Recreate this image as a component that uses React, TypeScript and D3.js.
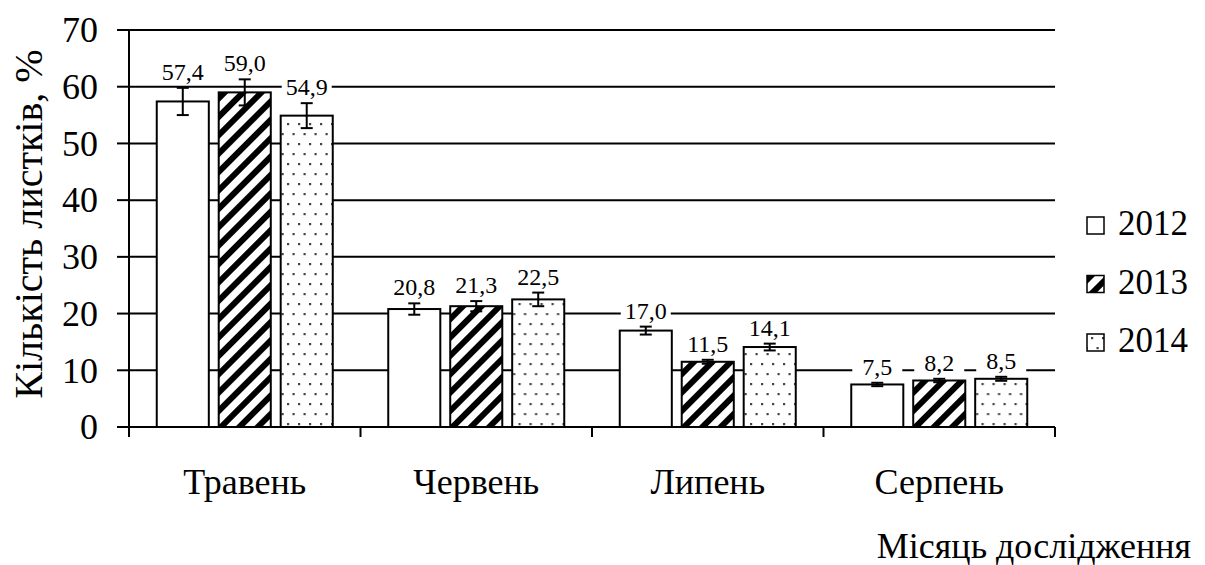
import React from "react";
import * as d3 from "d3";

const months = ["Травень", "Червень", "Липень", "Серпень"];
const years = ["2012", "2013", "2014"];
const values2012 = [57.4, 20.8, 17.0, 7.5];
const values2013 = [59.0, 21.3, 11.5, 8.2];
const values2014 = [54.9, 22.5, 14.1, 8.5];
const errors2012 = [2.4, 1.0, 0.7, 0.3];
const errors2013 = [2.3, 0.9, 0.35, 0.3];
const errors2014 = [2.2, 1.2, 0.6, 0.35];
const yTicks = [0, 10, 20, 30, 40, 50, 60, 70];
const yTitle = "Кількість листків, %";
const xTitle = "Місяць дослідження";

const seriesValues = [values2012, values2013, values2014];
const seriesErrors = [errors2012, errors2013, errors2014];
const fills = ["#fff", "url(#stripes)", "url(#dots)"];

const FONT = "Liberation Serif, Times New Roman, DejaVu Serif, serif";

export default function App() {
  const left = 129, right = 1055, top = 30, bottom = 427;
  const y = d3.scaleLinear().domain([0, 70]).range([bottom, top]);
  const x = d3.scaleBand().domain(months).range([left, right]).padding(0);
  const gw = x.bandwidth();
  const pad = (gw - 176) / 2;
  const xs = d3.scaleBand().domain(years).range([pad, gw - pad]).paddingInner(0.16).paddingOuter(0);
  const fmt = (v: number) => v.toFixed(1).replace(".", ",");

  return (
    <svg width={1205} height={565} style={{ position: "absolute", left: 0, top: 0, background: "#fff", fontFamily: FONT }}>
      <defs>
        <pattern id="stripes" width={13} height={13} patternUnits="userSpaceOnUse" patternTransform="rotate(45)">
          <rect x={0} y={0} width={13} height={13} fill="#fff" />
          <rect x={0} y={0} width={6} height={13} fill="#000" />
        </pattern>
        <pattern id="dots" width={22} height={20} patternUnits="userSpaceOnUse" x={2} y={0}>
          <rect x={0} y={0} width={22} height={20} fill="#fff" />
          <rect x={2} y={3} width={2.2} height={2.2} fill="#444" />
          <rect x={13} y={3} width={2.2} height={2.2} fill="#444" />
          <rect x={7.5} y={13} width={2.2} height={2.2} fill="#444" />
          <rect x={18.5} y={13} width={2.2} height={2.2} fill="#444" />
        </pattern>
      </defs>

      {yTicks.map((t) => (
        <line key={"g" + t} x1={left} x2={right} y1={y(t)} y2={y(t)} stroke="#000" strokeWidth={2} />
      ))}
      <line x1={left} x2={left} y1={top - 1} y2={bottom + 10} stroke="#000" strokeWidth={2} />
      {yTicks.map((t) => (
        <g key={"t" + t}>
          <line x1={left - 12} x2={left} y1={y(t)} y2={y(t)} stroke="#000" strokeWidth={2} />
          <text x={98} y={y(t)} dy="0.34em" textAnchor="end" fontSize={36}>{t}</text>
        </g>
      ))}
      {[...months.map((m) => x(m) as number), right].map((px, i) => (
        <line key={"xt" + i} x1={px} x2={px} y1={bottom} y2={bottom + 10} stroke="#000" strokeWidth={2} />
      ))}

      {months.map((m, mi) => (
        <g key={m} transform={`translate(${x(m)},0)`}>
          {years.map((yr, si) => {
            const v = seriesValues[si][mi];
            const e = seriesErrors[si][mi];
            const bx = xs(yr) as number;
            const bw = xs.bandwidth();
            const cx = bx + bw / 2;
            return (
              <g key={yr}>
                <rect x={bx} y={y(v)} width={bw} height={y(0) - y(v)} fill={fills[si]} stroke="#000" strokeWidth={2} />
                <line x1={cx} x2={cx} y1={y(v + e)} y2={y(v - e)} stroke="#000" strokeWidth={2} />
                <line x1={cx - 6} x2={cx + 6} y1={y(v + e)} y2={y(v + e)} stroke="#000" strokeWidth={2} />
                <line x1={cx - 6} x2={cx + 6} y1={y(v - e)} y2={y(v - e)} stroke="#000" strokeWidth={2} />
              </g>
            );
          })}
          {years.map((yr, si) => {
            const v = seriesValues[si][mi];
            const e = seriesErrors[si][mi];
            const cx = (xs(yr) as number) + xs.bandwidth() / 2;
            const by = y(v + e) - 8;
            return (
              <g key={"l" + yr}>
                <rect x={cx - 25} y={by - 18} width={50} height={22} fill="#fff" />
                <text x={cx} y={by} textAnchor="middle" fontSize={24}>{fmt(v)}</text>
              </g>
            );
          })}
          <text x={gw / 2} y={494} textAnchor="middle" fontSize={36}>{m}</text>
        </g>
      ))}

      {years.map((yr, i) => (
        <g key={"lg" + yr} transform={`translate(1087,${217 + i * 58.5})`}>
          <rect x={0} y={0} width={17} height={17} fill={fills[i]} stroke="#000" strokeWidth={1.5} />
          <text x={31} y={18} fontSize={35}>{yr}</text>
        </g>
      ))}

      <text transform="translate(42,224) rotate(-90)" textAnchor="middle" fontSize={40}>{yTitle}</text>
      <text x={1191} y={558} textAnchor="end" fontSize={36}>{xTitle}</text>
    </svg>
  );
}
